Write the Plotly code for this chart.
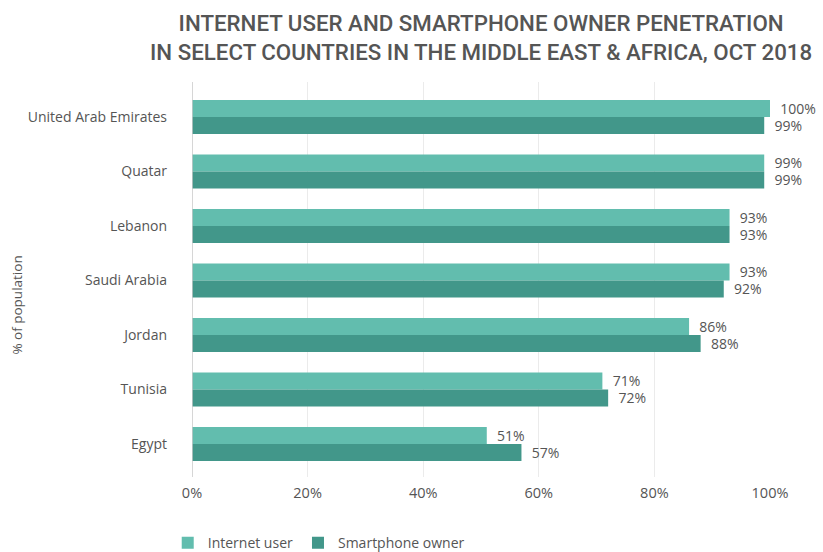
import plotly.graph_objects as go

countries = ["United Arab Emirates", "Quatar", "Lebanon", "Saudi Arabia", "Jordan", "Tunisia", "Egypt"]
internet_user = [100, 99, 93, 93, 86, 71, 51]
smartphone_owner = [99, 99, 93, 92, 88, 72, 57]
x_ticks = [0, 20, 40, 60, 80, 100]
x_tick_labels = ["0%", "20%", "40%", "60%", "80%", "100%"]

TEXT = "#555555"
FONT = "Open Sans"
PAD = "\u00a0\u00a0"


def value_labels(values):
    return [f"{PAD}{v}%" for v in values]


fig = go.Figure()
fig.add_trace(go.Bar(
    y=countries, x=internet_user, orientation="h", name="Internet user",
    marker=dict(color="#62bdae", line=dict(width=0)),
    text=value_labels(internet_user), textposition="outside",
    cliponaxis=False, constraintext="none",
    textfont=dict(family=FONT, size=14, color=TEXT),
))
fig.add_trace(go.Bar(
    y=countries, x=smartphone_owner, orientation="h", name="Smartphone owner",
    marker=dict(color="#42978a", line=dict(width=0)),
    text=value_labels(smartphone_owner), textposition="outside",
    cliponaxis=False, constraintext="none",
    textfont=dict(family=FONT, size=14, color=TEXT),
))

fig.update_layout(
    width=823, height=552,
    margin=dict(l=192, r=53, t=82, b=75, autoexpand=False),
    paper_bgcolor="white", plot_bgcolor="white",
    barmode="group", bargap=0.376, bargroupgap=0,
    font=dict(family=FONT, size=14, color=TEXT),
    xaxis=dict(
        range=[0, 100], tickvals=x_ticks, ticktext=x_tick_labels,
        showgrid=True, gridcolor="#ebebeb", gridwidth=1,
        ticks="", zeroline=False, showline=False, ticklabelstandoff=5,
        tickfont=dict(family=FONT, size=14.5, color=TEXT),
    ),
    yaxis=dict(
        range=[6.606, -0.642], showgrid=False, zeroline=False,
        showline=False, ticks="", ticklabelstandoff=24,
        tickfont=dict(family=FONT, size=14, color=TEXT),
    ),
    legend=dict(
        orientation="h", x=-0.042, xanchor="left",
        yref="container", y=0.016, yanchor="middle",
        font=dict(family=FONT, size=14, color=TEXT), traceorder="normal",
    ),
    showlegend=True,
)

# Two-line heading above the plot
fig.add_annotation(
    text="INTERNET USER AND SMARTPHONE OWNER PENETRATION<br>IN SELECT COUNTRIES IN THE MIDDLE EAST &amp; AFRICA, OCT 2018",
    xref="paper", yref="paper", x=0.5, y=1.187, xanchor="center", yanchor="top",
    showarrow=False, align="center",
    font=dict(family="Roboto", size=22.3, color="#555555", weight=500),
)

# Axis line at 0%
fig.add_shape(type="line", xref="x", yref="paper", x0=0, x1=0, y0=0, y1=1,
              line=dict(color="#c8c8c8", width=1.5), layer="above")

# Rotated y-axis caption
fig.add_annotation(
    text="% of population", xref="paper", yref="paper",
    x=-0.302, y=0.435, xanchor="center", yanchor="middle",
    textangle=-90, showarrow=False,
    font=dict(family=FONT, size=13.5, color=TEXT),
)

fig.write_html("out.html")
